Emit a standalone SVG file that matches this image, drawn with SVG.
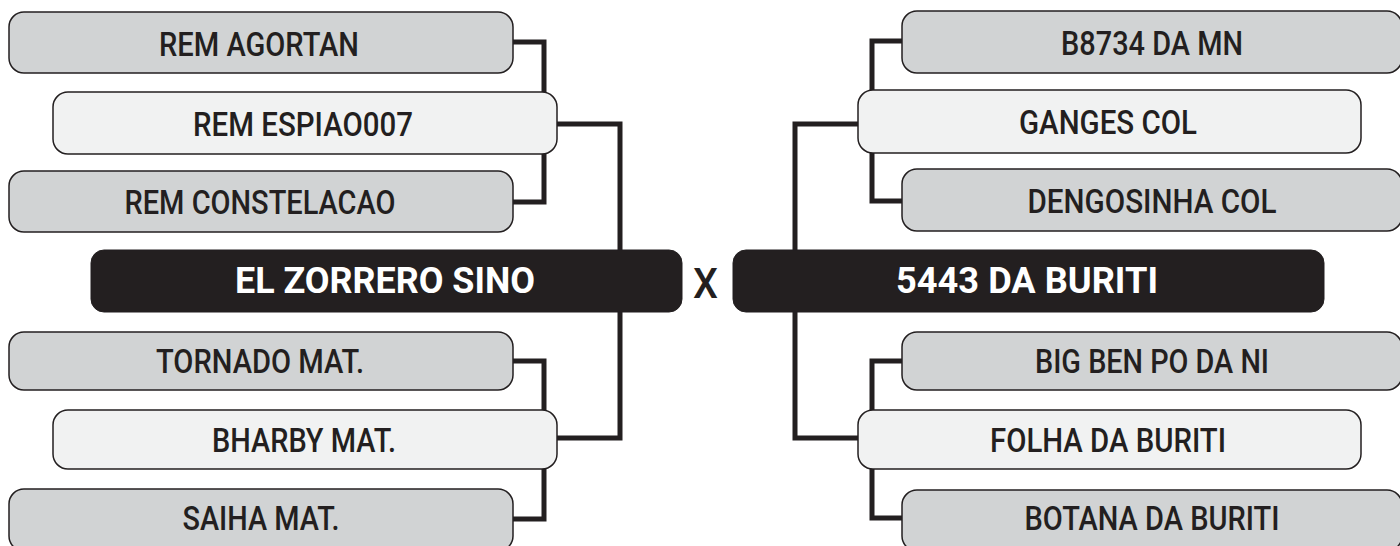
<svg xmlns="http://www.w3.org/2000/svg" width="1400" height="546" viewBox="0 0 1400 546">
<style>
.g{fill:#d1d3d4;stroke:#231f20;stroke-width:1.5}
.l{fill:#f1f2f2;stroke:#231f20;stroke-width:1.5}
.b{fill:#231f20;stroke:#231f20;stroke-width:1}
.t{font-family:Roboto,"Liberation Sans",sans-serif;font-weight:500;font-size:34px;fill:#231f20;text-anchor:middle}
.tb{font-family:Roboto,"Liberation Sans",sans-serif;font-weight:700;font-size:36px;fill:#ffffff;text-anchor:middle}
.c{fill:none;stroke:#231f20;stroke-width:5;stroke-linejoin:miter}
</style>
<rect width="1400" height="546" fill="#ffffff"/>
<g id="connectors">
<path class="c" d="M513,42 H544 V202 H513"/>
<path class="c" d="M557,124 H620 V438 H557"/>
<path class="c" d="M513,361 H544 V519 H513"/>
<path class="c" d="M902,41 H872 V201 H902"/>
<path class="c" d="M858,124 H795 V438 H858"/>
<path class="c" d="M902,361 H872 V518 H902"/>
</g>
<g id="rem-agortan"><rect class="g" x="9" y="12" width="504" height="61" rx="15"/><text class="t" x="259" y="56" textLength="200" lengthAdjust="spacingAndGlyphs">REM AGORTAN</text></g>
<g id="rem-espiao007"><rect class="l" x="53" y="92" width="504" height="62" rx="15"/><text class="t" x="303" y="136" textLength="220" lengthAdjust="spacingAndGlyphs">REM ESPIAO007</text></g>
<g id="rem-constelacao"><rect class="g" x="9" y="171" width="504" height="61" rx="15"/><text class="t" x="260" y="214" textLength="271" lengthAdjust="spacingAndGlyphs">REM CONSTELACAO</text></g>
<g id="el-zorrero-sino"><rect class="b" x="91" y="250" width="591" height="62" rx="13"/><text class="tb" x="385" y="293" textLength="300" lengthAdjust="spacingAndGlyphs">EL ZORRERO SINO</text></g>
<g id="tornado-mat"><rect class="g" x="9" y="332" width="504" height="58" rx="15"/><text class="t" x="260" y="373" textLength="208" lengthAdjust="spacingAndGlyphs">TORNADO MAT.</text></g>
<g id="bharby-mat"><rect class="l" x="53" y="410" width="504" height="59" rx="15"/><text class="t" x="304" y="452" textLength="184" lengthAdjust="spacingAndGlyphs">BHARBY MAT.</text></g>
<g id="saiha-mat"><rect class="g" x="9" y="489" width="504" height="62" rx="15"/><text class="t" x="261" y="530" textLength="157" lengthAdjust="spacingAndGlyphs">SAIHA MAT.</text></g>
<g id="versus"><text x="705.5" y="298" font-family="Roboto,'Liberation Sans',sans-serif" font-weight="500" font-size="42" fill="#231f20" text-anchor="middle" textLength="25" lengthAdjust="spacingAndGlyphs">X</text></g>
<g id="b8734-da-mn"><rect class="g" x="902" y="11" width="500" height="62" rx="15"/><text class="t" x="1152" y="55" textLength="182" lengthAdjust="spacingAndGlyphs">B8734 DA MN</text></g>
<g id="ganges-col"><rect class="l" x="858" y="90" width="503" height="63" rx="15"/><text class="t" x="1108" y="134" textLength="178" lengthAdjust="spacingAndGlyphs">GANGES COL</text></g>
<g id="dengosinha-col"><rect class="g" x="902" y="169" width="500" height="62" rx="15"/><text class="t" x="1152" y="213" textLength="249" lengthAdjust="spacingAndGlyphs">DENGOSINHA COL</text></g>
<g id="5443-da-buriti"><rect class="b" x="733" y="250" width="591" height="62" rx="13"/><text class="tb" x="1027" y="293" textLength="262" lengthAdjust="spacingAndGlyphs">5443 DA BURITI</text></g>
<g id="big-ben-po-da-ni"><rect class="g" x="902" y="332" width="500" height="58" rx="15"/><text class="t" x="1152" y="373" textLength="234" lengthAdjust="spacingAndGlyphs">BIG BEN PO DA NI</text></g>
<g id="folha-da-buriti"><rect class="l" x="858" y="410" width="503" height="59" rx="15"/><text class="t" x="1108" y="452" textLength="236" lengthAdjust="spacingAndGlyphs">FOLHA DA BURITI</text></g>
<g id="botana-da-buriti"><rect class="g" x="902" y="490" width="500" height="61" rx="15"/><text class="t" x="1152" y="530" textLength="255" lengthAdjust="spacingAndGlyphs">BOTANA DA BURITI</text></g>
</svg>
